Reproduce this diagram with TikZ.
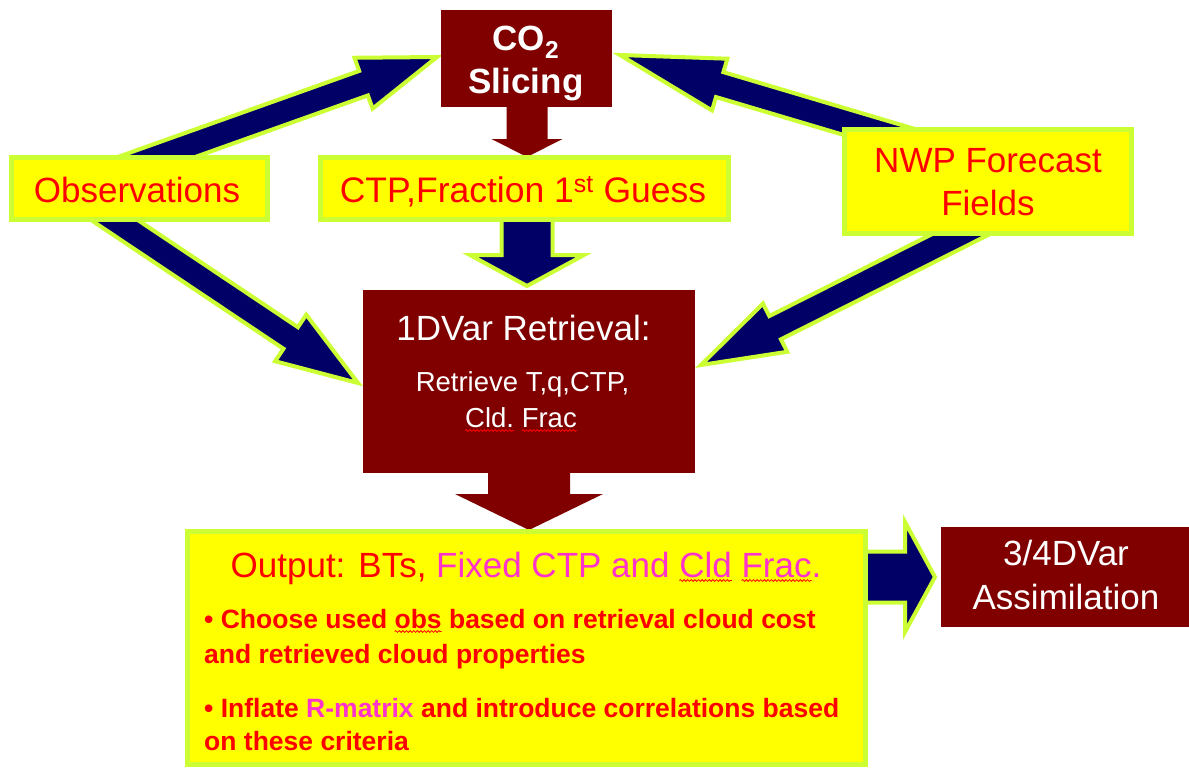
\documentclass[tikz,border=0pt]{standalone}
\usepackage{fontspec}
\setmainfont{Liberation Sans}
\usetikzlibrary{calc,decorations.pathmorphing}

\definecolor{darkred}{RGB}{128,0,0}
\definecolor{navyblue}{RGB}{0,0,102}
\definecolor{limeedge}{RGB}{204,255,51}
\definecolor{boxyellow}{RGB}{255,255,0}
\definecolor{pinkmag}{RGB}{255,51,204}
\definecolor{spellred}{RGB}{255,0,0}

% red wavy underline of a spell checker
\newsavebox\spellbox
\newcommand\spellwave[1]{\sbox\spellbox{#1}\usebox\spellbox\tikz[overlay,baseline=0pt]\draw[spellred,line width=0.8pt,decorate,decoration={snake,amplitude=0.9pt,segment length=3.6pt}] (-\wd\spellbox,-3.5pt) -- (0pt,-3.5pt);}

\pgfdeclarelayer{back}
\pgfsetlayers{back,main}

% block arrow: [style]{tail}{tip}{shaft half width}{head half width}{head length}
\newcommand\blockarrow[6][]{%
  \coordinate (bahead) at ($(#3)!#6!(#2)$);
  \draw[#1] ($(#2)!#4!90:(#3)$) -- ($(bahead)!#4!90:(#3)$) -- ($(bahead)!#5!90:(#3)$)
    -- (#3) -- ($(bahead)!#5!-90:(#3)$) -- ($(bahead)!#4!-90:(#3)$)
    -- ($(#2)!#4!-90:(#3)$) -- cycle;}

\tikzset{
  ybox/.style={draw=limeedge, line width=5pt, fill=boxyellow, inner sep=0pt},
  rbox/.style={fill=darkred, inner sep=0pt},
  navyarrow/.style={fill=navyblue, draw=limeedge, line width=4pt, line join=miter},
  redarrow/.style={fill=darkred, draw=none},
  bigtxt/.style={inner sep=0pt, anchor=base, font=\fontsize{35}{43}\selectfont},
  smalltxt/.style={inner sep=0pt, anchor=base, font=\fontsize{27.5}{33}\selectfont},
  bullettxt/.style={inner sep=0pt, anchor=base west, text=red, font=\fontsize{26.5}{32}\selectfont\bfseries},
}

\begin{document}
\begin{tikzpicture}[x=1pt,y=-1pt]
\useasboundingbox (0,0) rectangle (1189,771);

% boxes
\node[rbox, minimum width=171pt, minimum height=97pt] (co2) at (526.5,58.5) {};
\node[ybox, minimum width=256pt, minimum height=62pt] (obs) at (139.5,188.5) {};
\node[ybox, minimum width=408pt, minimum height=62pt] (ctp) at (524.5,188.5) {};
\node[ybox, minimum width=287pt, minimum height=104pt] (nwp) at (988,181.5) {};
\node[rbox, minimum width=332pt, minimum height=183pt] (var1) at (529,381.5) {};
\node[ybox, minimum width=678pt, minimum height=233pt] (out) at (526.5,648) {};
\node[rbox, minimum width=248pt, minimum height=100pt] (var34) at (1065,577) {};

% texts
\node[bigtxt, text=white, font=\fontsize{35}{43}\selectfont\bfseries] (co2a) at (526,50) {CO\textsubscript{2}};
\node[bigtxt, text=white, font=\fontsize{35}{43}\selectfont\bfseries] (co2b) at (526,93) {Slicing};
\node[bigtxt, text=red] (obst) at (137,202) {Observations};
\node[bigtxt, text=red, font=\fontsize{35.5}{43}\selectfont] (ctpt) at (523,202) {CTP,Fraction 1\textsuperscript{st} Guess};
\node[bigtxt, text=red] (nwpa) at (988,172) {NWP Forecast};
\node[bigtxt, text=red] (nwpb) at (988,215) {Fields};
\node[bigtxt, text=white] (var1a) at (523.5,340) {1DVar Retrieval:};
\node[smalltxt, text=white] (var1b) at (522.5,391) {Retrieve T,q,CTP,};
\node[smalltxt, text=white] (var1c) at (521,427) {\spellwave{Cld.} \spellwave{Frac}};
\node[bigtxt, text=red] (outt) at (526,577) {Output: BTs, \textcolor{pinkmag}{Fixed CTP and \spellwave{Cld} \spellwave{Frac}.}};
\node[bullettxt] (outb1) at (204,628) {• Choose used \spellwave{obs} based on retrieval cloud cost};
\node[bullettxt] (outb2) at (204,663) {and retrieved cloud properties};
\node[bullettxt] (outb3) at (204,717) {• Inflate \textcolor{pinkmag}{R-matrix} and introduce correlations based};
\node[bullettxt] (outb4) at (204,750) {on these criteria};
\node[bigtxt, text=white] (var34a) at (1066,565) {3/4DVar};
\node[bigtxt, text=white] (var34b) at (1066,609) {Assimilation};

% arrow ends
\coordinate (t1) at (120,170);  \coordinate (p1) at (437,57);
\coordinate (t2) at (80,197);   \coordinate (p2) at (358,383);
\coordinate (t3) at (930,147);  \coordinate (p3) at (620,55);
\coordinate (t4) at (985,222);  \coordinate (p4) at (701,365);
\coordinate (t5) at (527,100);  \coordinate (p5) at (527,157);
\coordinate (t6) at (527,210);  \coordinate (p6) at (527,286);
\coordinate (t7) at (529,465);  \coordinate (p7) at (529,530);
\coordinate (t8) at (855,577);  \coordinate (p8) at (935,577);

% arrows, behind the boxes
\begin{pgfonlayer}{back}
  \blockarrow[navyarrow]{t1}{p1}{13pt}{27pt}{78pt}
  \blockarrow[navyarrow]{t2}{p2}{13pt}{28pt}{81pt}
  \blockarrow[navyarrow]{t3}{p3}{13pt}{27pt}{104pt}
  \blockarrow[navyarrow]{t4}{p4}{13pt}{27pt}{83pt}
  \blockarrow[redarrow]{t5}{p5}{20.5pt}{35.5pt}{18pt}
  \blockarrow[navyarrow]{t6}{p6}{25.5pt}{57pt}{31pt}
  \blockarrow[redarrow]{t7}{p7}{41pt}{74pt}{36pt}
  \blockarrow[navyarrow]{t8}{p8}{25.5pt}{55pt}{30pt}
\end{pgfonlayer}
\end{tikzpicture}
\end{document}
